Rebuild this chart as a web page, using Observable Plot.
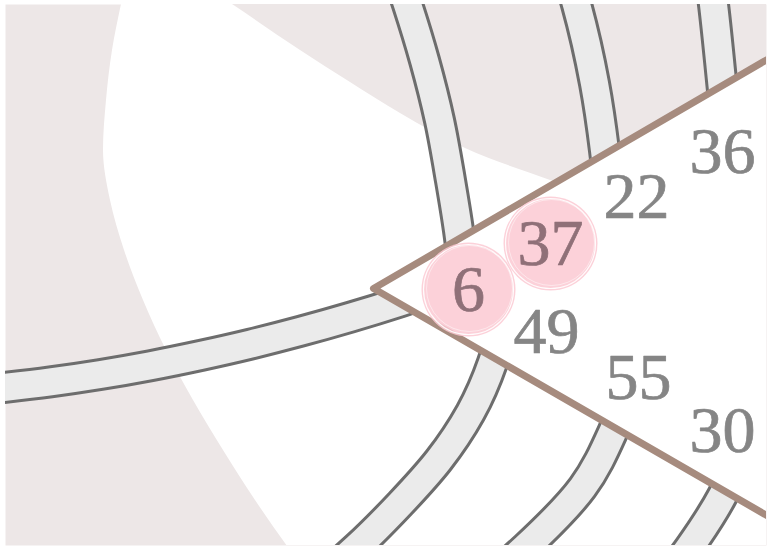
<!DOCTYPE html>
<html>
<head>
<meta charset="utf-8">
<script src="https://cdn.jsdelivr.net/npm/d3@7"></script>
<script src="https://cdn.jsdelivr.net/npm/@observablehq/plot@0.6"></script>
<style>body{margin:0;background:#fff}</style>
</head>
<body>
<div id="chart"></div>
<script>
// Number labels inside the wedge
const values = [6, 37, 49, 22, 55, 36, 30];
const valueX = [468, 550, 546, 636, 638, 722, 722];
const valueY = [289, 243, 331, 196, 377, 151, 430];
const highlighted = [true, true, false, false, false, false, false];

// Background white region (left boundary) and pink top-right region (lower boundary)
const bgLeftX = [124, 121, 112, 106, 103, 110, 124, 143, 166, 193, 223, 255, 290, 305];
const bgLeftY = [-10, 4, 50, 100, 150, 200, 250, 300, 350, 400, 450, 500, 550, 570];
const bgTopX = [211, 232, 300, 350, 400, 465, 550, 600, 700, 800];
const bgTopY = [-10, 4, 50, 82, 113, 148, 180, 199, 237, 275];

// Road bands (centerlines)
const band1TopX = [399, 407, 424, 439, 450, 458, 464];
const band1TopY = [-20, 4, 60, 120, 180, 230, 280];
const band1BotX = [505, 492, 470, 438, 400, 356, 330];
const band1BotY = [310, 362, 412, 460, 503, 547, 570];
const band2TopX = [569, 576, 594, 604, 610];
const band2TopY = [-20, 4, 83, 150, 210];
const band2BotX = [628, 612, 582, 525, 505];
const band2BotY = [390, 432, 487, 547, 565];
const band3TopX = [710, 713, 721, 726];
const band3TopY = [-20, 4, 80, 130];
const band3BotX = [740, 722, 689, 672];
const band3BotY = [455, 495, 547, 570];
const band4X = [-20, 50, 100, 150, 200, 250, 300, 350, 400, 450];
const band4Y = [389.6, 381.4, 374, 365.2, 355, 343.6, 330.8, 316.7, 301.3, 284.5];

// Wedge outline
const wedgeX = [820, 373, 820];
const wedgeY = [28, 288, 546];

const pts = (name, xs, ys) => xs.map((x, i) => ({band: name, x, y: ys[i]}));
const vBands = [
  ...pts("b1t", band1TopX, band1TopY),
  ...pts("b1b", band1BotX, band1BotY),
  ...pts("b2t", band2TopX, band2TopY),
  ...pts("b2b", band2BotX, band2BotY),
  ...pts("b3t", band3TopX, band3TopY),
  ...pts("b3b", band3BotX, band3BotY)
];
const hBand = pts("b4", band4X, band4Y);
const leftPts = pts("left", bgLeftX, bgLeftY);
const topPts = pts("top", bgTopX, bgTopY);
const wedge = pts("wedge", wedgeX, wedgeY);
const labels = values.map((v, i) => ({v, x: valueX[i], y: valueY[i], hi: highlighted[i]}));
const circles = labels.filter(d => d.hi);

const pink = "#ede7e7";
const edge = "#6d6d6d";
const road = "#ebebeb";

const chart = Plot.plot({
  width: 769,
  height: 548,
  marginLeft: 5,
  marginRight: 3,
  marginTop: 4,
  marginBottom: 3,
  x: {domain: [5, 766], axis: null},
  y: {domain: [4, 545], reverse: true, axis: null},
  style: {background: "white"},
  marks: [
    Plot.frame({fill: pink, stroke: "none"}),
    Plot.areaX(leftPts, {x1: "x", x2: 800, y: "y", fill: "white", curve: "monotone-y", clip: true}),
    Plot.areaY(topPts, {x: "x", y1: -20, y2: "y", fill: pink, curve: "monotone-x", clip: true}),
    Plot.line(vBands, {x: "x", y: "y", z: "band", stroke: edge, strokeWidth: 33, curve: "monotone-y", clip: true}),
    Plot.line(hBand, {x: "x", y: "y", stroke: edge, strokeWidth: 33, curve: "monotone-x", clip: true}),
    Plot.line(vBands, {x: "x", y: "y", z: "band", stroke: road, strokeWidth: 27, curve: "monotone-y", clip: true}),
    Plot.line(hBand, {x: "x", y: "y", stroke: road, strokeWidth: 27, curve: "monotone-x", clip: true}),
    Plot.line(wedge, {x: "x", y: "y", fill: "white", stroke: "#a68b7e", strokeWidth: 7, strokeLinejoin: "round", clip: true}),
    Plot.dot(circles, {x: "x", y: "y", r: 47, fill: "#fbc9d2", fillOpacity: 0.85, stroke: "none"}),
    Plot.dot(circles, {x: "x", y: "y", r: 45, fill: "none", stroke: "white", strokeWidth: 1.2, strokeOpacity: 0.9}),
    Plot.dot(circles, {x: "x", y: "y", r: 43, dx: 1, dy: -1, fill: "none", stroke: "white", strokeWidth: 0.8, strokeOpacity: 0.6}),
    Plot.text(labels, {x: "x", y: "y", text: d => String(d.v),
      fill: d => d.hi ? "#8f7078" : "#858585",
      stroke: d => d.hi ? "#8f7078" : "#858585", strokeWidth: 0.7,
      fontSize: 66, fontFamily: "'Liberation Serif', 'DejaVu Serif', serif"})
  ]
});
document.getElementById("chart").appendChild(chart);
</script>
</body>
</html>
